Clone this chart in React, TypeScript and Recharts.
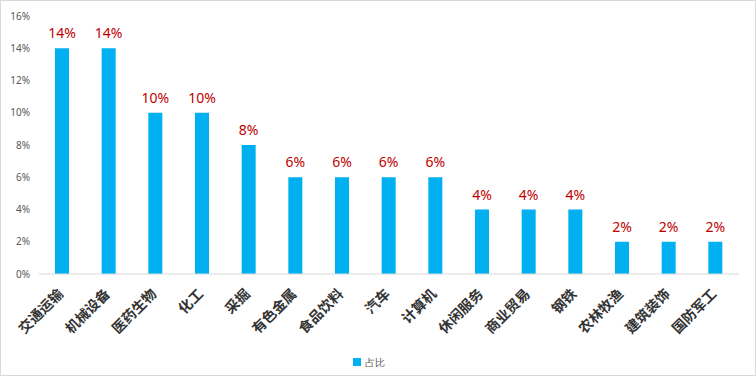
import { BarChart, Bar, XAxis, YAxis, Legend, LabelList } from "recharts";

const industries = [
  "交通运输",
  "机械设备",
  "医药生物",
  "化工",
  "采掘",
  "有色金属",
  "食品饮料",
  "汽车",
  "计算机",
  "休闲服务",
  "商业贸易",
  "钢铁",
  "农林牧渔",
  "建筑装饰",
  "国防军工",
];
const shares = [14, 14, 10, 10, 8, 6, 6, 6, 6, 4, 4, 4, 2, 2, 2];
const yTicks = [0, 2, 4, 6, 8, 10, 12, 14, 16];

const data = industries.map((name, i) => ({ name, share: shares[i] }));

const AngledTick = (props: any) => {
  const { x, y, payload } = props;
  return (
    <g transform={`translate(${x - 1},${y + 10})`}>
      <text
        x={0}
        y={0}
        dy={4}
        textAnchor="end"
        transform="rotate(-45)"
        fontSize={14}
        fontWeight="bold"
        fill="#333333"
        fontFamily="'Noto Sans CJK SC', sans-serif"
      >
        {payload.value}
      </text>
    </g>
  );
};

export default function App() {
  return (
    <div style={{ position: "absolute", left: 0, top: 0, width: 756, height: 376 }}>
      <div
        style={{
          position: "absolute",
          left: 0,
          top: 0,
          width: 756,
          height: 376,
          boxSizing: "border-box",
          border: "1px solid #d9d9d9",
        }}
      />
      <BarChart
        width={756}
        height={376}
        data={data}
        margin={{ top: 16, right: 17, left: 8, bottom: 0 }}
        style={{ fontFamily: "'Noto Sans', sans-serif" }}
      >
        <XAxis
          dataKey="name"
          interval={0}
          height={75}
          tickLine={false}
          axisLine={{ stroke: "#d9d9d9" }}
          tick={<AngledTick />}
        />
        <YAxis
          width={31}
          domain={[0, 16]}
          ticks={yTicks}
          tickFormatter={(v: number) => `${v}%`}
          axisLine={false}
          tickLine={false}
          tickSize={0}
          tickMargin={9}
          tick={{ fontSize: 10, fill: "#595959" }}
        />
        <Legend
          verticalAlign="bottom"
          height={27}
          iconType="square"
          iconSize={8}
          formatter={() => <span style={{ color: "#595959", fontSize: 10 }}>占比</span>}
        />
        <Bar dataKey="share" name="占比" fill="#00b0f0" barSize={14} isAnimationActive={false}>
          <LabelList
            dataKey="share"
            position="top"
            offset={10}
            formatter={(v: any) => `${v}%`}
            fill="#c00000"
            fontSize={14}
          />
        </Bar>
      </BarChart>
    </div>
  );
}
